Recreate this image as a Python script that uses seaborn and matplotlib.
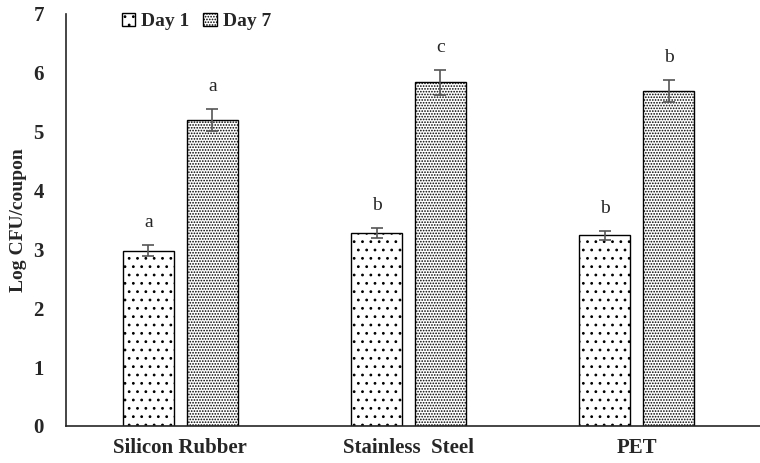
import numpy as np
import pandas as pd
import matplotlib
matplotlib.use("Agg")
import matplotlib.pyplot as plt
import seaborn as sns

materials = ["Silicon Rubber", "Stainless  Steel", "PET"]
days = ["Day 1", "Day 7"]
day1_means = [2.98, 3.28, 3.24]
day7_means = [5.20, 5.84, 5.69]
day1_err = [0.10, 0.08, 0.08]
day7_err = [0.19, 0.21, 0.19]
day1_letters = ["a", "b", "b"]
day7_letters = ["a", "c", "b"]

df = pd.DataFrame({
    "material": materials * 2,
    "day": [days[0]] * 3 + [days[1]] * 3,
    "value": day1_means + day7_means,
})

sns.set_style("white")
plt.rcParams["font.family"] = ["Liberation Serif", "DejaVu Serif"]
plt.rcParams["font.weight"] = "bold"
plt.rcParams["hatch.linewidth"] = 0.8

fig, ax = plt.subplots(figsize=(7.6, 4.63), dpi=100)
fig.subplots_adjust(left=0.087, right=1.0, top=0.97, bottom=0.08)

sns.barplot(data=df, x="material", y="value", hue="day", order=materials,
            hue_order=days, palette=["white", "white"], edgecolor="black",
            linewidth=1.0, width=0.56, gap=0.2, errorbar=None, ax=ax)

hatches = {days[0]: "..", days[1]: "......"}
errs = {days[0]: day1_err, days[1]: day7_err}
means = {days[0]: day1_means, days[1]: day7_means}
letters = {days[0]: day1_letters, days[1]: day7_letters}

for cont, d in zip(ax.containers, days):
    for i, bar in enumerate(cont):
        bar.set_hatch(hatches[d])
        cx = bar.get_x() + bar.get_width() / 2
        ax.errorbar(cx, means[d][i], yerr=errs[d][i], color="#555555",
                    capsize=4, elinewidth=1.2, capthick=1.2)
        ax.text(cx, means[d][i] + errs[d][i] + 0.38, letters[d][i],
                ha="center", va="center", fontsize=14, fontweight="normal")

ax.set_ylim(0, 7)
ax.set_xlim(-0.5, 2.54)
ax.set_yticks(range(0, 8))
ax.tick_params(axis="both", length=0, labelsize=15)
ax.tick_params(axis="x", pad=9)
ax.tick_params(axis="y", pad=16)
for lab in ax.get_xticklabels() + ax.get_yticklabels():
    lab.set_fontweight("bold")
ax.set_xlabel("")
ax.set_ylabel("Log CFU/coupon", fontsize=14, fontweight="bold")
ax.yaxis.set_label_coords(-0.057, 0.5)
sns.despine(ax=ax)
ax.spines["left"].set_linewidth(1.2)
ax.spines["bottom"].set_linewidth(1.2)

handles = [cont[0] for cont in ax.containers]
leg = ax.legend(handles, days, loc="upper left", bbox_to_anchor=(0.055, 1.045),
                ncol=2, frameon=False, fontsize=14, handlelength=0.7,
                handleheight=0.7, columnspacing=0.7, handletextpad=0.3)
for t in leg.get_texts():
    t.set_fontweight("bold")

fig.savefig("out.png", dpi=100)
